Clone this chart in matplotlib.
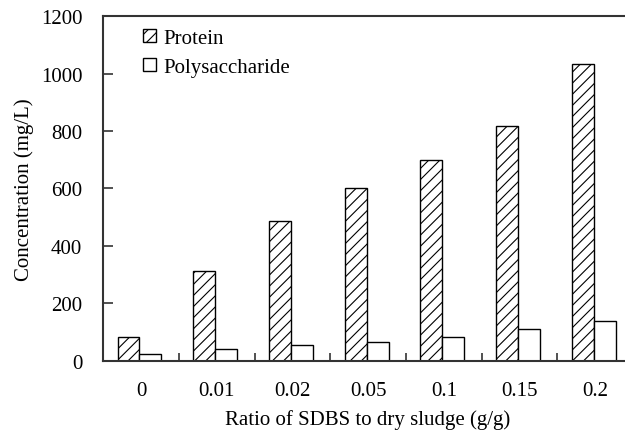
import numpy as np
import matplotlib.pyplot as plt

plt.rcParams['font.family'] = ['Liberation Serif', 'DejaVu Serif']
plt.rcParams['hatch.linewidth'] = 0.8

# data
ratios = ['0', '0.01', '0.02', '0.05', '0.1', '0.15', '0.2']
protein = [82, 312, 488, 600, 698, 819, 1033]
polysaccharide = [23, 39, 55, 66, 84, 110, 137]

x = np.arange(len(ratios))
w = 0.29

fig = plt.figure(figsize=(6.25, 4.31), dpi=100)
ax = fig.add_axes([0.165, 0.161, 0.848, 0.799])

ax.bar(x - w / 2 - 0.02, protein, w, color='white', edgecolor='black',
       hatch='///', linewidth=1.0, label='Protein')
ax.bar(x + w / 2 - 0.02, polysaccharide, w, color='white', edgecolor='black',
       linewidth=1.0, label='Polysaccharide')

ax.set_xlim(-0.5, len(ratios) - 0.5)
ax.set_ylim(0, 1200)
ax.set_yticks(range(0, 1201, 200))
ax.set_xticks(x)
ax.set_xticklabels(ratios)
ax.set_xticks(x[:-1] + 0.5, minor=True)
ax.tick_params(axis='x', which='major', length=0, pad=15, labelsize=15)
ax.tick_params(axis='x', which='minor', direction='in', length=6, width=1.2, color='#333333')
ax.tick_params(axis='y', direction='in', length=7, width=1.2, color='#333333',
               labelsize=15, pad=15)

for side in ['left', 'bottom', 'top', 'right']:
    ax.spines[side].set_linewidth(1.5)
    ax.spines[side].set_color('#333333')

ax.set_xlabel('Ratio of SDBS to dry sludge (g/g)', fontsize=15, labelpad=6)
ax.set_ylabel('Concentration (mg/L)', fontsize=15, labelpad=5)

ax.legend(loc='upper left', bbox_to_anchor=(0.052, 1.0), frameon=False,
          fontsize=15, handlelength=0.6, handleheight=0.6, handletextpad=0.35,
          labelspacing=0.5, borderaxespad=0.2)

fig.savefig('out.png', dpi=100)
